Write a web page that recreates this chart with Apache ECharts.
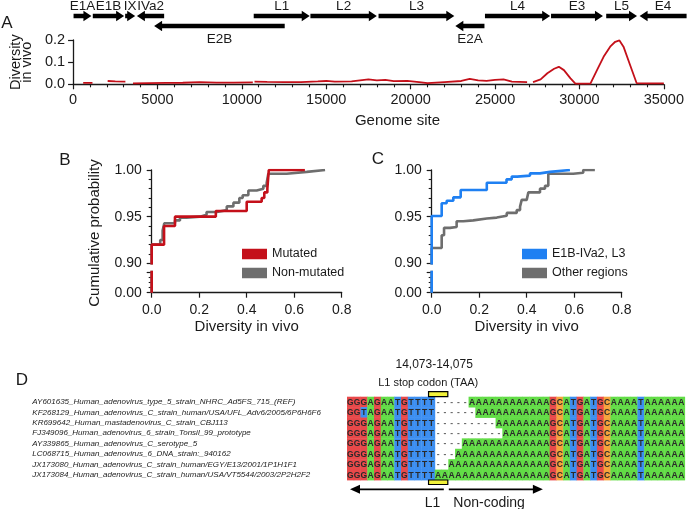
<!DOCTYPE html>
<html><head><meta charset="utf-8">
<script src="https://cdn.jsdelivr.net/npm/echarts@6/dist/echarts.min.js"></script>
<style>html,body{margin:0;padding:0;background:#fff}#c{width:687px;height:509px}</style>
</head><body><div id="c"></div>
<script>
// ---------- Panel A data ----------
const genomeSites = [600, 1150, 1600, 2050, 2500, 3100, 3350, 3550, 4500, 5500, 6500, 7500, 8500, 9500, 10650, 10700, 10750, 11500, 12500, 13500, 14500, 15000, 15500, 16500, 17000, 17500, 18000, 18500, 19000, 19800, 20500, 21000, 22000, 23000, 23500, 24000, 24500, 25000, 25500, 26000, 26900, 27080, 27250, 27700, 28100, 28500, 28780, 29080, 29470, 29760, 30650, 31040, 31430, 31820, 32120, 32370, 32610, 33000, 33390, 34000, 35000];
const diversityInVivo = [0.006, 0.006, null, 0.015, 0.013, 0.012, null, 0.004, 0.005, 0.006, 0.007, 0.010, 0.008, 0.008, 0.009, null, 0.012, 0.011, 0.010, 0.010, 0.013, 0.015, 0.012, 0.013, 0.018, 0.022, 0.018, 0.020, 0.014, 0.015, 0.010, 0.005, 0.010, 0.015, 0.025, 0.018, 0.015, 0.020, 0.022, 0.012, 0.010, null, 0.010, 0.022, 0.050, 0.070, 0.079, 0.064, 0.027, 0.003, 0.003, 0.064, 0.124, 0.170, 0.192, 0.198, 0.170, 0.087, 0.005, 0.004, 0.004];

const geneNames = ['E1A', 'E1B', 'IX', 'IVa2', 'E2B', 'L1', 'L2', 'L3', 'E2A', 'L4', 'E3', 'L5', 'E4'];
const geneFrom  = [150, 1280, 3180, 3870, 4880, 10730, 14060, 18060, 22570, 24310, 28190, 31430, 33390];
const geneTo    = [1200, 3120, 3770, 5470, 12550, 14020, 17960, 22510, 24280, 28140, 31240, 33240, 36150];
const geneStrand = [1, 1, 1, -1, -1, 1, 1, 1, -1, 1, 1, 1, -1];
const geneTrack  = [2, 2, 2, 2, 1, 2, 2, 2, 1, 2, 2, 2, 2];

// ---------- Panel B data (cumulative probability) ----------
const mutatedX = [0, 0, 0.052, 0.098, 0.27, 0.40, 0.463, 0.474, 0.487, 0.493, 0.645];
const mutatedY = [0, 0.92, 0.94, 0.95, 0.956, 0.966, 0.970, 0.976, 0.980, 1.0, 1.0];
const nonMutatedX = [0, 0, 0.036, 0.046, 0.053, 0.098, 0.119, 0.147, 0.203, 0.231, 0.274, 0.316, 0.344, 0.369, 0.383, 0.407, 0.442, 0.470, 0.484, 0.491, 0.568, 0.653, 0.66, 0.730];
const nonMutatedY = [0, 0.92, 0.925, 0.935, 0.943, 0.946, 0.949, 0.950, 0.952, 0.955, 0.957, 0.961, 0.965, 0.970, 0.973, 0.978, 0.980, 0.983, 0.986, 0.996, 0.998, 0.999, 1.0, 1.0];

// ---------- Panel C data ----------
const e1bX = [0, 0, 0.042, 0.063, 0.091, 0.122, 0.232, 0.315, 0.337, 0.36, 0.414, 0.456, 0.498, 0.582];
const e1bY = [0, 0.9507, 0.9643, 0.967, 0.9707, 0.9786, 0.9864, 0.990, 0.9929, 0.994, 0.9964, 0.998, 1.0, 1.0];
const otherX = [0, 0, 0.042, 0.052, 0.077, 0.105, 0.133, 0.175, 0.232, 0.274, 0.316, 0.358, 0.372, 0.379, 0.40, 0.407, 0.456, 0.477, 0.491, 0.596, 0.638, 0.687];
const otherY = [0, 0.9164, 0.930, 0.938, 0.939, 0.945, 0.946, 0.948, 0.949, 0.951, 0.954, 0.957, 0.9607, 0.968, 0.970, 0.976, 0.980, 0.983, 0.996, 0.997, 1.0, 1.0];

const seriesNamesB = ['Mutated', 'Non-mutated'];
const seriesNamesC = ['E1B-IVa2, L3', 'Other regions'];

// ---------- Panel D data ----------
const seqNames = [
  'AY601635_Human_adenovirus_type_5_strain_NHRC_Ad5FS_715_(REF)',
  'KF268129_Human_adenovirus_C_strain_human/USA/UFL_Adv6/2005/6P6H6F6',
  'KR699642_Human_mastadenovirus_C_strain_CBJ113',
  'FJ349096_Human_adenovirus_6_strain_Tonsil_99_prototype',
  'AY339865_Human_adenovirus_C_serotype_5',
  'LC068715_Human_adenovirus_6_DNA_strain:_940162',
  'JX173080_Human_adenovirus_C_strain_human/EGY/E13/2001/1P1H1F1',
  'JX173084_Human_adenovirus_C_strain_human/USA/VT5544/2003/2P2H2F2'
];
const seqs = [
  'GGGAGAATGTTTT' + '-----' + 'AAAAAAAAAAAA' + 'GCATGATGCAAAATAAAAAA',
  'GGTAGAATGTTTT' + '------' + 'AAAAAAAAAAA' + 'GCATGATGCAAAATAAAAAA',
  'GGGAGAATGTTTT' + '---------' + 'AAAAAAAA' + 'GCATGATGCAAAATAAAAAA',
  'GGGAGAATGTTTT' + '----------' + 'AAAAAAA' + 'GCATGATGCAAAATAAAAAA',
  'GGGAGAATGTTTT' + '----' + 'AAAAAAAAAAAAA' + 'GCATGATGCAAAATAAAAAA',
  'GGGAGAATGTTTT' + '---' + 'AAAAAAAAAAAAAA' + 'GCATGATGCAAAATAAAAAA',
  'GGGAGAATGTTTT' + '--' + 'AAAAAAAAAAAAAAA' + 'GCATGATGCAAAATAAAAAA',
  'GGGAGAATGTTTT' + 'AAAAAAAAAAAAAAAAA' + 'GCATGATGCAAAATAAAAAA'
];
const stopCodonCols = [13, 15];
const codingStartCol = 1;
const nonCodingEndCol = 29;
const stopCodonTitle = ['14,073-14,075', 'L1 stop codon (TAA)'];
const regionLabels = ['L1', 'Non-coding'];

// ---------- styling ----------
const FONT = 'Liberation Sans, Arial, Helvetica, sans-serif';
const INK = '#1a1a1a';
const RED = '#c4101a', GRAY = '#6e6e6e', BLUE = '#1f80f2';
const baseColors = { A: '#62dc46', G: '#e8494a', T: '#3c8ef0', C: '#f5a33c' };

const zip = (xs, ys) => xs.map((x, i) => [x, ys[i]]);
const nRows = seqs.length, nCols = seqs[0].length;
const cellData = [];
seqs.forEach((s, r) => { for (let c = 0; c < s.length; c++) cellData.push([c + 1, r, s[c]]); });

const axLine = { show: true, lineStyle: { color: INK, width: 1.3 } };
const tick = { show: true, length: 5, lineStyle: { color: INK, width: 1.2 } };
const minor = n => ({ show: true, splitNumber: n, length: 3, lineStyle: { color: INK, width: 1.1 } });
const lbl = (size, extra) => Object.assign({ color: INK, fontFamily: FONT, fontSize: size }, extra || {});
const noSplit = { show: false };

function cdfY(grid, upper) {
  return upper ? {
    type: 'value', gridIndex: grid, min: 0.9, max: 1.0, interval: 0.05,
    axisLine: axLine, axisTick: tick, minorTick: minor(5), splitLine: noSplit,
    axisLabel: lbl(14, { margin: 10, formatter: v => v.toFixed(2) })
  } : {
    type: 'value', gridIndex: grid, min: 0, max: 0.04, interval: 0.04,
    axisLine: axLine, axisTick: tick, minorTick: minor(4), splitLine: noSplit,
    axisLabel: lbl(14, { margin: 10, formatter: v => v === 0 ? '0.00' : '' })
  };
}
function cdfX(grid, shown) {
  return shown ? {
    type: 'value', gridIndex: grid, min: 0, max: 0.8, interval: 0.2,
    axisLine: axLine, axisTick: tick, splitLine: noSplit,
    axisLabel: lbl(14, { margin: 10, formatter: v => v.toFixed(1) }),
    name: 'Diversity in vivo', nameLocation: 'middle', nameGap: 27,
    nameTextStyle: lbl(15)
  } : { type: 'value', gridIndex: grid, min: 0, max: 0.8, show: false };
}
function cdfLine(name, grid, data, color, z) {
  return {
    type: 'line', name, xAxisIndex: grid, yAxisIndex: grid, data, step: 'end',
    showSymbol: false, symbol: 'none', z, animation: false,
    lineStyle: { color, width: 2.6 }, itemStyle: { color }
  };
}

const option = {
  animation: false,
  grid: [
    { left: 71, top: 6, width: 596, height: 30 },
    { left: 71, top: 40, width: 596, height: 44.3 },
    { left: 151.7, top: 170, width: 190, height: 93.3 },
    { left: 151.7, top: 272, width: 190, height: 20.7 },
    { left: 431.7, top: 170, width: 190, height: 93.3 },
    { left: 431.7, top: 272, width: 190, height: 20.7 },
    { left: 347, top: 396.7, width: 337.7, height: 83.3 }
  ],
  xAxis: [
    { type: 'value', gridIndex: 0, min: 0, max: 35000, show: false },
    { type: 'value', gridIndex: 1, min: 0, max: 35000, interval: 5000,
      axisLine: axLine, axisTick: tick, minorTick: minor(5), splitLine: noSplit,
      axisLabel: lbl(14.5, { margin: 8, formatter: v => String(v) }),
      name: 'Genome site', nameLocation: 'middle', nameGap: 29,
      nameTextStyle: lbl(15, { padding: [0, 0, 0, 58] }) },
    cdfX(2, false), cdfX(3, true), cdfX(4, false), cdfX(5, true),
    { type: 'value', gridIndex: 6, min: 0.5, max: nCols + 0.5, show: false }
  ],
  yAxis: [
    { type: 'value', gridIndex: 0, min: 0, max: 3, show: false },
    { type: 'value', gridIndex: 1, min: 0, max: 0.2, interval: 0.1,
      axisLine: axLine, axisTick: tick, splitLine: noSplit,
      axisLabel: lbl(14.5, { margin: 8, formatter: v => v.toFixed(1) }),
      name: 'Diversity\nin vivo', nameLocation: 'middle', nameGap: 38, nameRotate: 90,
      nameTextStyle: lbl(14.5, { lineHeight: 11 }) },
    cdfY(2, true), cdfY(3, false), cdfY(4, true), cdfY(5, false),
    { type: 'category', gridIndex: 6, data: seqNames, inverse: true,
      axisLine: { show: false }, axisTick: { show: false }, splitLine: noSplit,
      axisLabel: { color: '#222', fontFamily: FONT, fontSize: 8, fontStyle: 'italic', align: 'left', margin: 314.7 } }
  ],
  legend: [
    { data: seriesNamesB, left: 237, top: 242.5, orient: 'vertical', icon: 'rect', itemWidth: 25, itemHeight: 10.5,
      itemGap: 6, selectedMode: false, textStyle: lbl(12.5) },
    { data: seriesNamesC, left: 517, top: 242.5, orient: 'vertical', icon: 'rect', itemWidth: 25, itemHeight: 10.5,
      itemGap: 6, selectedMode: false, textStyle: lbl(12.5) }
  ],
  graphic: [
    { type: 'text', x: 7, y: 23, style: { text: 'A', fontSize: 17, fontFamily: FONT, fill: INK, align: 'center', verticalAlign: 'middle' } },
    { type: 'text', x: 65, y: 160, style: { text: 'B', fontSize: 17, fontFamily: FONT, fill: INK, align: 'center', verticalAlign: 'middle' } },
    { type: 'text', x: 378, y: 159, style: { text: 'C', fontSize: 17, fontFamily: FONT, fill: INK, align: 'center', verticalAlign: 'middle' } },
    { type: 'text', x: 22, y: 380, style: { text: 'D', fontSize: 17, fontFamily: FONT, fill: INK, align: 'center', verticalAlign: 'middle' } },
    { type: 'text', x: 95, y: 233, rotation: Math.PI / 2, style: { text: 'Cumulative probability', fontSize: 15, fontFamily: FONT, fill: INK, align: 'center', verticalAlign: 'middle' } }
  ],
  series: [
    { type: 'custom', xAxisIndex: 0, yAxisIndex: 0, clip: false,
      data: geneNames.map((n, i) => [geneFrom[i], geneTo[i], geneTrack[i], geneStrand[i]]),
      renderItem: (params, api) => {
        const from = api.value(0), to = api.value(1), track = api.value(2), strand = api.value(3);
        const p0 = api.coord([from, track]), p1 = api.coord([to, track]);
        const y = p0[1], x0 = p0[0], x1 = p1[0];
        const bh = 2.2, hh = 5.2, hl = 8;
        const pts = strand > 0
          ? [[x0, y - bh], [x1 - hl, y - bh], [x1 - hl, y - hh], [x1, y], [x1 - hl, y + hh], [x1 - hl, y + bh], [x0, y + bh]]
          : [[x1, y - bh], [x0 + hl, y - bh], [x0 + hl, y - hh], [x0, y], [x0 + hl, y + hh], [x0 + hl, y + bh], [x1, y + bh]];
        return { type: 'group', children: [
          { type: 'polygon', shape: { points: pts }, style: { fill: '#000' } },
          { type: 'text', style: { text: geneNames[params.dataIndex], x: (x0 + x1) / 2, y: track === 2 ? y - 10 : y + 13,
            align: 'center', verticalAlign: 'middle', fontSize: 13.5, fontFamily: FONT, fill: INK } }
        ] };
      } },
    { type: 'line', xAxisIndex: 1, yAxisIndex: 1, data: zip(genomeSites, diversityInVivo), connectNulls: false,
      showSymbol: false, symbol: 'none', lineStyle: { color: RED, width: 1.8 } },
    cdfLine(seriesNamesB[1], 2, zip(nonMutatedX, nonMutatedY), GRAY, 2),
    cdfLine(seriesNamesB[1], 3, zip(nonMutatedX, nonMutatedY), GRAY, 2),
    cdfLine(seriesNamesB[0], 2, zip(mutatedX, mutatedY), RED, 3),
    cdfLine(seriesNamesB[0], 3, zip(mutatedX, mutatedY), RED, 3),
    cdfLine(seriesNamesC[1], 4, zip(otherX, otherY), GRAY, 2),
    cdfLine(seriesNamesC[1], 5, zip(otherX, otherY), GRAY, 2),
    cdfLine(seriesNamesC[0], 4, zip(e1bX, e1bY), BLUE, 3),
    cdfLine(seriesNamesC[0], 5, zip(e1bX, e1bY), BLUE, 3),
    { type: 'custom', xAxisIndex: 6, yAxisIndex: 6, data: cellData, clip: false,
      renderItem: (params, api) => {
        const c = api.value(0), r = api.value(1), ch = cellData[params.dataIndex][2];
        const p = api.coord([c, r]), sz = api.size([1, 1]);
        const children = [];
        if (baseColors[ch]) children.push({ type: 'rect', shape: { x: p[0] - sz[0] / 2, y: p[1] - sz[1] / 2, width: sz[0] + 0.4, height: sz[1] + 0.4 },
          style: { fill: baseColors[ch] } });
        children.push({ type: 'text', style: { text: ch, x: p[0], y: p[1] + 0.5, align: 'center', verticalAlign: 'middle',
          fontSize: 8.5, fontWeight: 'bold', fontFamily: FONT, fill: ch === '-' ? '#666' : '#2a2a2a' } });
        return { type: 'group', children };
      } },
    { type: 'custom', xAxisIndex: 6, yAxisIndex: 6, clip: false, z: 5,
      data: [[stopCodonCols[0], stopCodonCols[1], codingStartCol, nonCodingEndCol]],
      renderItem: (params, api) => {
        const s = api.value(0), e = api.value(1), cs = api.value(2), ne = api.value(3);
        const sz = api.size([1, 1]);
        const top = api.coord([s, 0])[1] - sz[1] / 2;
        const bottom = api.coord([s, nRows - 1])[1] + sz[1] / 2;
        const bx0 = api.coord([s - 0.5, 0])[0], bx1 = api.coord([e + 0.5, 0])[0];
        const mid = (bx0 + bx1) / 2;
        const cx0 = api.coord([cs - 0.5, 0])[0], nx1 = api.coord([ne + 0.5, 0])[0];
        const ay = bottom + 9.3;
        const txt = (t, x, y, align, size) => ({ type: 'text', style: { text: t, x, y, align, verticalAlign: 'middle', fontSize: size, fontFamily: FONT, fill: INK } });
        const ls = { stroke: '#000', lineWidth: 1.8 };
        return { type: 'group', children: [
          { type: 'rect', shape: { x: bx0 + 0.5, y: top - 5, width: bx1 - bx0 - 1, height: 5 }, style: { fill: '#f2f23a', stroke: '#000', lineWidth: 1.2 } },
          { type: 'rect', shape: { x: bx0 + 0.5, y: bottom, width: bx1 - bx0 - 1, height: 4.5 }, style: { fill: '#f2f23a', stroke: '#000', lineWidth: 1.2 } },
          { type: 'line', shape: { x1: bx1 - 4.5, y1: ay, x2: cx0 + 8, y2: ay }, style: ls },
          { type: 'polygon', shape: { points: [[cx0 + 3, ay], [cx0 + 13, ay - 4.5], [cx0 + 13, ay + 4.5]] }, style: { fill: '#000' } },
          { type: 'line', shape: { x1: bx1 + 0.5, y1: ay, x2: nx1 - 6, y2: ay }, style: ls },
          { type: 'polygon', shape: { points: [[nx1, ay], [nx1 - 10, ay - 4.5], [nx1 - 10, ay + 4.5]] }, style: { fill: '#000' } },
          txt(regionLabels[0], bx1 - 8, bottom + 23.3, 'right', 14),
          txt(regionLabels[1], bx1 + 5, bottom + 23.3, 'left', 14),
          txt(stopCodonTitle[0], mid - 4, top - 31.7, 'center', 12),
          txt(stopCodonTitle[1], mid - 10, top - 13.4, 'center', 11)
        ] };
      } }
  ]
};

const chart = echarts.init(document.getElementById('c'));
chart.setOption(option);
</script>
</body></html>
